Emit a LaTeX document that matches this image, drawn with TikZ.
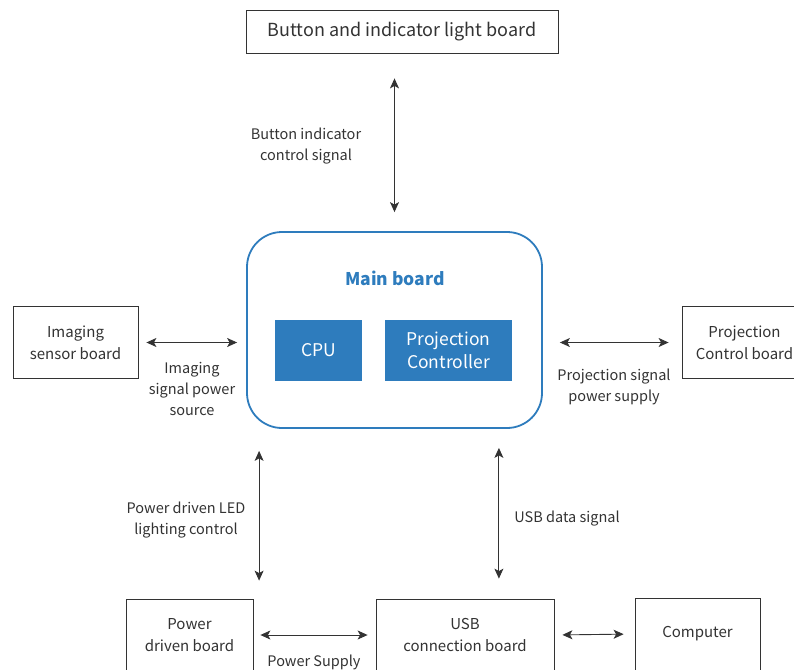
\documentclass[tikz,border=0pt]{standalone}
\usepackage{fontspec}
\setmainfont{Noto Sans CJK SC}
\usepackage{xcolor}
\usetikzlibrary{arrows.meta}
\definecolor{mainblue}{HTML}{2E7CBD}

\begin{document}
\begin{tikzpicture}[x=1pt, y=-1pt,
  board/.style={draw=black!80, fill=white, line width=0.8pt, rectangle, align=center, text=black!80, font=\fontsize{15}{22}\selectfont},
  chip/.style={fill=mainblue, text=white, rectangle, align=center, font=\fontsize{17.5}{23}\selectfont},
  lbl/.style={align=center, inner sep=0pt, font=\fontsize{14.5}{21}\selectfont, text=black!80},
  link/.style={{Stealth[length=10pt, width=9pt, inset=2.5pt]}-{Stealth[length=10pt, width=9pt, inset=2.5pt]}, line width=0.9pt, draw=black!80}]
  \clip (0,0) rectangle (794,669);
  \useasboundingbox (0,0) rectangle (794,669);
  % boards
  \node[board, minimum width=312, minimum height=43, font=\fontsize{18}{22}\selectfont] (btn) at (402,31.5) {Button and indicator light board};
  \node[draw=mainblue, line width=1.8pt, rounded corners=35, minimum width=295, minimum height=196] (main) at (394.5,330) {};
  \node[text=mainblue, font=\bfseries\fontsize{17.5}{22}\selectfont] (mainlbl) at (395,278) {Main board};
  \node[chip, minimum width=87, minimum height=61] (cpu) at (318.5,350.5) {CPU};
  \node[chip, minimum width=127, minimum height=61] (pctrl) at (448.5,350.5) {Projection\\Controller};
  \node[board, minimum width=125, minimum height=72] (img) at (75.5,342.5) {Imaging\\sensor board};
  \node[board, minimum width=125, minimum height=72] (pboard) at (744.5,342.5) {Projection\\Control board};
  \node[board, minimum width=127, minimum height=72] (pwr) at (189.5,635) {Power\\driven board};
  \node[board, minimum width=178, minimum height=72] (usb) at (465,635) {USB\\connection board};
  \node[board, minimum width=125, minimum height=72] (pc) at (697.5,634) {Computer};
  % links
  \draw[link, shorten <=25pt, shorten >=19pt] (btn.south -| main.north) -- (main.north);
  \draw[link, shorten <=8pt, shorten >=9pt] (img.east) -- (img.east -| main.west);
  \draw[link, shorten <=17pt, shorten >=13pt] (main.east |- pboard.west) -- (pboard.west);
  \draw[link, shorten <=22pt, shorten >=18pt] ([xshift=13pt]main.south west) -- ([xshift=13pt]main.south west |- pwr.north);
  \draw[link, shorten <=19pt, shorten >=20pt] ([xshift=-44pt]main.south east) -- ([xshift=-44pt]main.south east |- usb.north);
  \draw[link, shorten <=7pt, shorten >=8pt] (pwr.east) -- (usb.west);
  \draw[link, shorten <=8pt, shorten >=11pt] (usb.east) -- (pc.west);
  % labels
  \node[lbl] (l1) at (306,146) {Button indicator\\control signal};
  \node[lbl] (l2) at (192,389) {Imaging\\signal power\\source};
  \node[lbl] (l3) at (614,387) {Projection signal\\power supply};
  \node[lbl] (l4) at (186,520) {Power driven LED\\lighting control};
  \node[lbl] (l5) at (567,519) {USB data signal};
  \node[lbl] (l6) at (314,662) {Power Supply};
\end{tikzpicture}
\end{document}
